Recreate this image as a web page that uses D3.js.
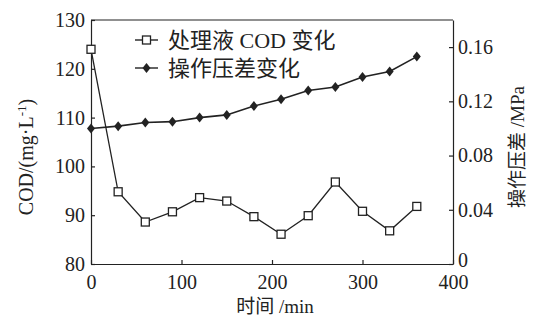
<!DOCTYPE html>
<html>
<head>
<meta charset="utf-8">
<script src="https://cdn.jsdelivr.net/npm/d3@7"></script>
<style>
  body { margin: 0; background: #fff; }
  svg { display: block; }
  .tick text { font-family: "Liberation Serif", "DejaVu Serif", serif; font-size: 20px; fill: #222; }
  .domain, .tick line { stroke: #222; stroke-width: 1.2; }
</style>
</head>
<body>
<div id="chart"></div>
<script>
// Chart data
const times = [0, 30, 60, 90, 120, 150, 180, 210, 240, 270, 300, 330, 360];
const codValues = [124, 94.8, 88.6, 90.7, 93.6, 92.9, 89.7, 86.1, 89.9, 96.8, 90.8, 86.8, 91.8];
const pressureValues = [0.100, 0.1017, 0.1044, 0.105, 0.108, 0.110, 0.1165, 0.1215, 0.128, 0.1306, 0.138, 0.142, 0.153];
const xTicks = [0, 100, 200, 300, 400];
const codTicks = [80, 90, 100, 110, 120, 130];
const pressureTicks = [0, 0.04, 0.08, 0.12, 0.16];
const legendLabels = ["处理液 COD 变化", "操作压差变化"];

const WIDTH = 543, HEIGHT = 321;
const margin = { left: 91, right: 90, top: 20, bottom: 57 };
const innerW = WIDTH - margin.left - margin.right;
const innerH = HEIGHT - margin.top - margin.bottom;
const ink = "#222";
const cjk = '"Liberation Serif", "Noto Sans CJK SC", serif';

const svg = d3.select("#chart").append("svg")
  .attr("width", WIDTH)
  .attr("height", HEIGHT);

const g = svg.append("g")
  .attr("transform", `translate(${margin.left},${margin.top})`);

// Scales
const x = d3.scaleLinear().domain([0, 400]).range([0, innerW]);
const yCod = d3.scaleLinear().domain([80, 130]).range([innerH, 0]);
const yP = d3.scaleLinear().domain([0, 0.18]).range([innerH, 0]);

// Axes (ticks point inward)
g.append("g")
  .attr("transform", `translate(0,${innerH})`)
  .call(d3.axisBottom(x).tickValues(xTicks).tickSizeInner(-4).tickSizeOuter(0).tickPadding(11).tickFormat(d3.format("d")));

g.append("g")
  .call(d3.axisLeft(yCod).tickValues(codTicks).tickSizeInner(-4).tickSizeOuter(0).tickPadding(6).tickFormat(d3.format("d")));

const rightAxis = g.append("g")
  .attr("transform", `translate(${innerW},0)`)
  .call(d3.axisRight(yP).tickValues(pressureTicks).tickSizeInner(-4).tickSizeOuter(0).tickPadding(5)
    .tickFormat(d => d === 0 ? "0" : d3.format(".2f")(d)));
// the zero label sits a little higher, above the 400 tick label
rightAxis.selectAll(".tick text").filter(d => d === 0).attr("dy", "0.1em");

// top frame line
g.append("line")
  .attr("x1", 0).attr("x2", innerW).attr("y1", 0).attr("y2", 0)
  .attr("stroke", ink).attr("stroke-width", 1.2);

// Axis titles
svg.append("text")
  .attr("x", margin.left + innerW / 2 + 3)
  .attr("y", 313)
  .attr("text-anchor", "middle")
  .attr("font-family", cjk)
  .attr("font-size", 19)
  .attr("fill", ink)
  .text("时间 /min");

const leftTitle = svg.append("text")
  .attr("transform", "translate(33,157) rotate(-90)")
  .attr("text-anchor", "middle")
  .attr("font-family", "Liberation Serif, serif")
  .attr("font-size", 20)
  .attr("fill", ink);
leftTitle.append("tspan").text("COD/(mg·L");
leftTitle.append("tspan").attr("dy", -7).attr("font-size", 13).text("-1");
leftTitle.append("tspan").attr("dy", 7).text(")");

svg.append("text")
  .attr("transform", "translate(524,147) rotate(-90)")
  .attr("text-anchor", "middle")
  .attr("font-family", cjk)
  .attr("font-size", 19)
  .attr("fill", ink)
  .text("操作压差 /MPa");

// Lines
const codLine = d3.line().x((d, i) => x(times[i])).y(d => yCod(d));
const pLine = d3.line().x((d, i) => x(times[i])).y(d => yP(d));

g.append("path")
  .datum(codValues)
  .attr("fill", "none")
  .attr("stroke", ink)
  .attr("stroke-width", 1.3)
  .attr("d", codLine);

g.append("path")
  .datum(pressureValues)
  .attr("fill", "none")
  .attr("stroke", ink)
  .attr("stroke-width", 1.6)
  .attr("d", pLine);

// Markers
const sq = 8;
g.selectAll(".cod-pt")
  .data(codValues)
  .join("rect")
  .attr("class", "cod-pt")
  .attr("x", (d, i) => x(times[i]) - sq / 2)
  .attr("y", d => yCod(d) - sq / 2)
  .attr("width", sq).attr("height", sq)
  .attr("fill", "#fff")
  .attr("stroke", ink)
  .attr("stroke-width", 1.3);

const diamond = "M0,-5L4,0L0,5L-4,0Z";
g.selectAll(".p-pt")
  .data(pressureValues)
  .join("path")
  .attr("class", "p-pt")
  .attr("transform", (d, i) => `translate(${x(times[i])},${yP(d)})`)
  .attr("d", diamond)
  .attr("fill", ink);

// Legend
const legend = svg.append("g").attr("transform", "translate(135,40)");
legendLabels.forEach((label, i) => {
  const row = legend.append("g").attr("transform", `translate(0,${i * 28})`);
  row.append("line")
    .attr("x1", 0).attr("x2", 23).attr("y1", 0).attr("y2", 0)
    .attr("stroke", ink).attr("stroke-width", 1.4);
  if (i === 0) {
    row.append("rect")
      .attr("x", 7.5).attr("y", -4).attr("width", sq).attr("height", sq)
      .attr("fill", "#fff").attr("stroke", ink).attr("stroke-width", 1.3);
  } else {
    row.append("path").attr("transform", "translate(11.5,0)").attr("d", diamond).attr("fill", ink);
  }
  row.append("text")
    .attr("x", 33)
    .attr("y", 0)
    .attr("dy", "0.36em")
    .attr("font-family", cjk)
    .attr("font-size", 22)
    .attr("fill", ink)
    .text(label);
});
</script>
</body>
</html>
